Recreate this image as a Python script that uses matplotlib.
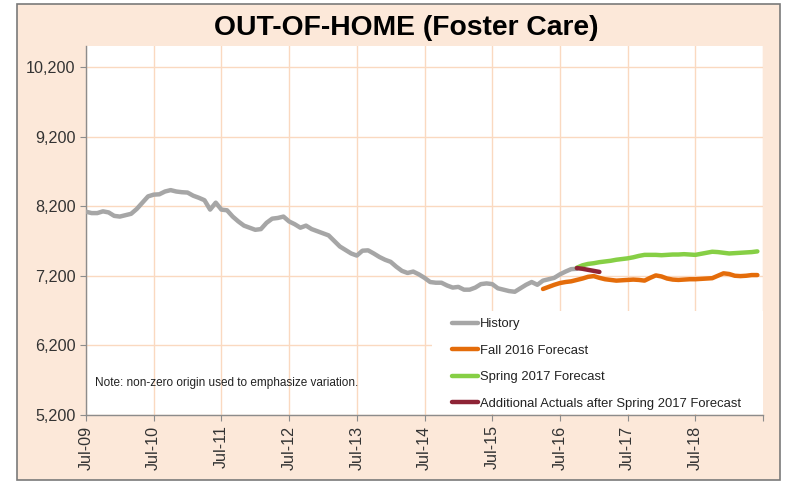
import matplotlib
matplotlib.use("Agg")
import matplotlib.pyplot as plt
from matplotlib.patches import Rectangle
import numpy as np

# Month index 0 = Jul-2009
tick_labels = ["Jul-09", "Jul-10", "Jul-11", "Jul-12", "Jul-13",
               "Jul-14", "Jul-15", "Jul-16", "Jul-17", "Jul-18"]

history_start = 0
history = [8120, 8100, 8100, 8125, 8110, 8060, 8050, 8070, 8090, 8160,
           8250, 8340, 8365, 8370, 8410, 8430, 8410, 8400, 8395, 8350,
           8320, 8285, 8150, 8250, 8150, 8140, 8050, 7980, 7920, 7890,
           7860, 7870, 7960, 8020, 8030, 8050, 7980, 7940, 7890, 7920,
           7870, 7840, 7810, 7780, 7700, 7620, 7570, 7520, 7490, 7560,
           7565, 7520, 7470, 7430, 7400, 7330, 7270, 7240, 7260, 7220,
           7170, 7110, 7100, 7100, 7060, 7030, 7040, 7000, 7000, 7030,
           7080, 7090, 7080, 7020, 7000, 6980, 6970, 7020, 7070, 7110,
           7070, 7130, 7150, 7170, 7220, 7260, 7295, 7300]

fall2016_start = 81
fall2016 = [7010, 7040, 7070, 7095, 7110, 7120, 7140, 7160, 7185, 7195,
            7170, 7150, 7140, 7130, 7135, 7140, 7145, 7140, 7130, 7170,
            7205, 7190, 7160, 7145, 7140, 7145, 7150, 7150, 7155, 7160,
            7165, 7200, 7235, 7225, 7200, 7195, 7200, 7210, 7210]

spring2017_start = 87
spring2017 = [7315, 7350, 7370, 7380, 7395, 7405, 7415, 7430, 7440, 7450,
              7465, 7485, 7500, 7500, 7500, 7495, 7500, 7505, 7505, 7510,
              7505, 7500, 7515, 7530, 7545, 7540, 7530, 7520, 7525, 7530,
              7535, 7540, 7550]

actuals_start = 87
actuals = [7310, 7300, 7285, 7270, 7255]

y_ticks = [5200, 6200, 7200, 8200, 9200, 10200]

W, H = 787, 482
fig = plt.figure(figsize=(W / 100, H / 100), dpi=100)
fig.patch.set_facecolor("white")

# outer peach panel with border
fig.patches.append(Rectangle((17 / W, 2 / H), (780 - 17) / W, (478 - 2) / H,
                             transform=fig.transFigure, facecolor="#FCE8D9",
                             edgecolor="#7a7a7a", linewidth=1.2, zorder=-10))

ax = fig.add_axes([86 / W, 1 - 415 / H, (763 - 86) / W, (415 - 46) / H])
ax.set_zorder(5)
ax.set_facecolor("white")
ax.set_axisbelow(True)

def xs(start, vals):
    return np.arange(start, start + len(vals))

lw = 3.2
ax.plot(xs(history_start, history), history, color="#A6A6A6", lw=lw,
        solid_capstyle="round", label="History", zorder=3)
ax.plot(xs(fall2016_start, fall2016), fall2016, color="#E46C0A", lw=lw,
        solid_capstyle="round", label="Fall 2016 Forecast", zorder=3)
ax.plot(xs(spring2017_start, spring2017), spring2017, color="#86CF45", lw=lw,
        solid_capstyle="round", label="Spring 2017 Forecast", zorder=3)
ax.plot(xs(actuals_start, actuals), actuals, color="#8E2436", lw=lw,
        solid_capstyle="round", label="Additional Actuals after Spring 2017 Forecast",
        zorder=4)

ax.set_xlim(0, 120)
ax.set_ylim(5200, 10500)
ax.set_xticks(np.arange(0, 121, 12))
ax.set_xticklabels(tick_labels + [""], rotation=90)
ax.set_yticks(y_ticks)
ax.set_yticklabels([f"{v:,}" for v in y_ticks])

ax.grid(True, color="#FAD9C0", lw=1.0)
for s in ["top", "right"]:
    ax.spines[s].set_visible(False)
for s in ["left", "bottom"]:
    ax.spines[s].set_color("#8c8c8c")
    ax.spines[s].set_linewidth(1.0)
ax.tick_params(axis="both", direction="out", length=4, color="#8c8c8c",
               labelcolor="#333333")
for lab in ax.get_yticklabels() + ax.get_xticklabels():
    lab.set_fontfamily(["Liberation Sans", "DejaVu Sans"])
    lab.set_fontsize(11.6)

# white box behind legend
ax.add_patch(Rectangle(((432 - 86) / 677, 0.004), 1 - (432 - 86) / 677, (413 - 310) / 369,
                       transform=ax.transAxes, facecolor="white", edgecolor="none",
                       zorder=1))

leg = ax.legend(loc="upper left", bbox_to_anchor=((447 - 86) / 677, (415 - 313) / 369),
                frameon=False, handlelength=2.0, handletextpad=0.1,
                labelspacing=1.1, borderaxespad=0,
                prop={"family": ["Liberation Sans", "DejaVu Sans"], "size": 9.4})
for t in leg.get_texts():
    t.set_color("#222222")

ax.text((95 - 86) / 677, (415 - 383) / 369,
        "Note: non-zero origin used to emphasize variation.",
        transform=ax.transAxes, va="center", ha="left", fontsize=8.5,
        family=["Liberation Sans", "DejaVu Sans"], color="#222222")

fig.text(406 / W, 1 - 28 / H, "OUT-OF-HOME (Foster Care)", ha="center", va="center",
         fontsize=20.3, fontweight="bold",
         family=["Liberation Sans", "DejaVu Sans"], color="black")

fig.savefig("out.png", dpi=100)
